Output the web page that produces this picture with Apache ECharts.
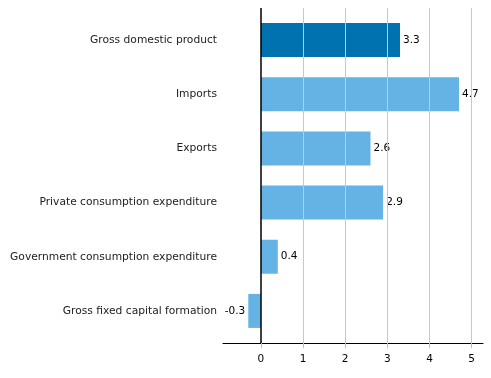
<!DOCTYPE html>
<html><head><meta charset="utf-8">
<script src="https://cdn.jsdelivr.net/npm/echarts@6/dist/echarts.min.js"></script>
<style>html,body{margin:0;padding:0;background:#fff}#c{width:491px;height:378px}</style>
</head><body><div id="c"></div>
<script>
const categories = ["Gross domestic product","Imports","Exports","Private consumption expenditure","Government consumption expenditure","Gross fixed capital formation"];
const values = [3.3, 4.7, 2.6, 2.9, 0.4, -0.3];
const tickValues = [0, 1, 2, 3, 4, 5];
const gridValues = [1, 2, 3, 4, 5];
const highlightIndex = 0;

const FONT = "DejaVu Sans";
const XMIN = -0.9, XMAX = 5.27;
const chart = echarts.init(document.getElementById('c'));
chart.setOption({
  animation: false,
  grid: [
    {left: 223, right: 8, top: 13, bottom: 40, containLabel: false},
    {left: 223, right: 8, top: 8, bottom: 35, containLabel: false}
  ],
  xAxis: [
    {gridIndex: 0, type: 'value', min: XMIN, max: XMAX, show: false},
    {
      gridIndex: 1, type: 'value', min: XMIN, max: XMAX,
      axisLine: {show: true, onZero: false, lineStyle: {color: '#000', width: 1}},
      axisTick: {show: true, customValues: tickValues, length: 5, lineStyle: {color: '#bdbdbd', width: 1}},
      axisLabel: {customValues: tickValues, color: '#000', fontFamily: FONT, fontSize: 10.5, margin: 11},
      splitLine: {show: false}
    }
  ],
  yAxis: [
    {
      gridIndex: 0, type: 'category', data: categories, inverse: true,
      axisLine: {show: false},
      axisTick: {show: false},
      axisLabel: {color: '#222', fontFamily: FONT, fontSize: 10.7, margin: 6}
    },
    {gridIndex: 1, type: 'value', min: 0, max: 1, show: false}
  ],
  series: [
    {
      type: 'scatter', xAxisIndex: 1, yAxisIndex: 1, data: [], z: 1,
      markLine: {
        silent: true, symbol: 'none', label: {show: false},
        lineStyle: {color: '#c8c8c8', type: 'solid', width: 1},
        data: gridValues.map(v => ({xAxis: v}))
      }
    },
    {
      type: 'bar', xAxisIndex: 0, yAxisIndex: 0,
      barWidth: 34,
      data: values.map((v, i) => ({
        value: v,
        itemStyle: {color: i === highlightIndex ? '#0072b0' : '#65b2e5'},
        label: {position: v < 0 ? 'left' : 'right'}
      })),
      label: {show: true, color: '#000', fontFamily: FONT, fontSize: 10.5, distance: 3},
      z: 3
    },
    {
      type: 'scatter', xAxisIndex: 1, yAxisIndex: 1, data: [], z: 5,
      markLine: {
        silent: true, symbol: 'none', label: {show: false},
        lineStyle: {color: '#000', type: 'solid', width: 1.5},
        data: [{xAxis: 0}]
      }
    }
  ]
});
</script></body></html>
